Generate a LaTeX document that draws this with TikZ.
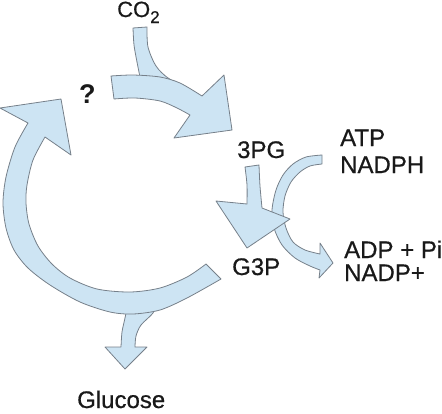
\documentclass[tikz,border=0pt]{standalone}
\usepackage{fontspec}
\setmainfont{Liberation Sans}
\newfontfamily\lblfont[FakeBold=0.6]{Liberation Sans}
\definecolor{arrowfill}{RGB}{205,228,243}
\definecolor{arrowline}{RGB}{118,128,138}
\tikzset{
  shapestyle/.style={fill=arrowfill, draw=arrowline, line width=0.8pt, line join=round},
  lbl/.style={anchor=base west, inner sep=0pt, text=black!90, font=\lblfont\fontsize{24}{28}\selectfont}
}
\begin{document}
\begin{tikzpicture}[x=1pt,y=-1pt]
\useasboundingbox (0,0) rectangle (442,413);
% Glucose arrow (behind the big arc)
\path[shapestyle] plot[smooth] coordinates {(156,303) (153,313) (141,325) (136,336) (135,347)}
  -- (147,347) -- (125,369) -- (105,347) -- (121,347)
  -- plot[smooth] coordinates {(121,347) (122,332) (125,318) (128,303)} -- cycle;
% big left arc
\path[shapestyle] (61,99) -- (0,108)
  -- plot[smooth] coordinates {(28,123) (15,147) (6,177) (3,203) (6,228) (14,250) (28,268) (50,285) (80,302) (110,312) (133,314) (160,310) (187,298) (221,279)}
  -- plot[smooth] coordinates {(206,264) (187,277) (160,288) (130,292) (97,289) (70,278) (52,264) (38,246) (29,224) (26,203) (27,185) (33,160) (45,137)}
  -- (71,155) -- cycle;
% CO2 stem
\path[shapestyle] (133,28) -- (147,27)
  -- plot[smooth] coordinates {(147,27) (148,47) (156,66) (168,78) (185,87) (198,95)}
  -- (146,92)
  -- plot[smooth] coordinates {(141,82) (137,62) (134,45) (133,28)} -- cycle;
% upper arrow
\path[shapestyle] plot[smooth] coordinates {(111,76) (133,75) (160,77) (180,83) (202,96)}
  -- (224,75) -- (232,130) -- (174,138)
  -- plot[smooth] coordinates {(190,115) (177,108) (160,101) (135,98) (114,99)} -- cycle;
% ATP / NADPH arc
\path[shapestyle] plot[smooth] coordinates {(322,155) (306,157) (293,164) (283,175) (276,190) (272,210) (274,228) (282,245) (295,258) (310,266) (320,270)}
  -- (319,278) -- (333,263) -- (320,243)
  -- plot[smooth] coordinates {(320,254) (305,250) (293,242) (286,228) (283,212) (285,196) (291,182) (300,172) (310,166) (322,164)} -- cycle;
% 3PG -> G3P arrow
\path[shapestyle] (245,167) -- (259,165)
  -- plot[smooth] coordinates {(259,165) (260,186) (262,208)}
  -- (290,219) -- (247,248) -- (216,201)
  -- plot[smooth] coordinates {(247,204) (247,185) (245,167)} -- cycle;
% labels
\node[lbl, font=\lblfont\fontsize{22}{26}\selectfont] (co2) at (117,17) {CO\raisebox{-6pt}{\fontsize{17}{17}\selectfont 2}};
\node[lbl, font=\fontsize{27}{30}\selectfont\bfseries] (q) at (79,103) {?};
\node[lbl] (pg) at (237,158) {3PG};
\node[lbl] (atp) at (340,146) {ATP};
\node[lbl] (nadph) at (340,173) {NADPH};
\node[lbl] (g3p) at (232,275) {G3P};
\node[lbl] (adp) at (344,258) {ADP + Pi};
\node[lbl] (nadp) at (344,281) {NADP+};
\node[lbl] (glc) at (77,408) {Glucose};
\end{tikzpicture}
\end{document}
